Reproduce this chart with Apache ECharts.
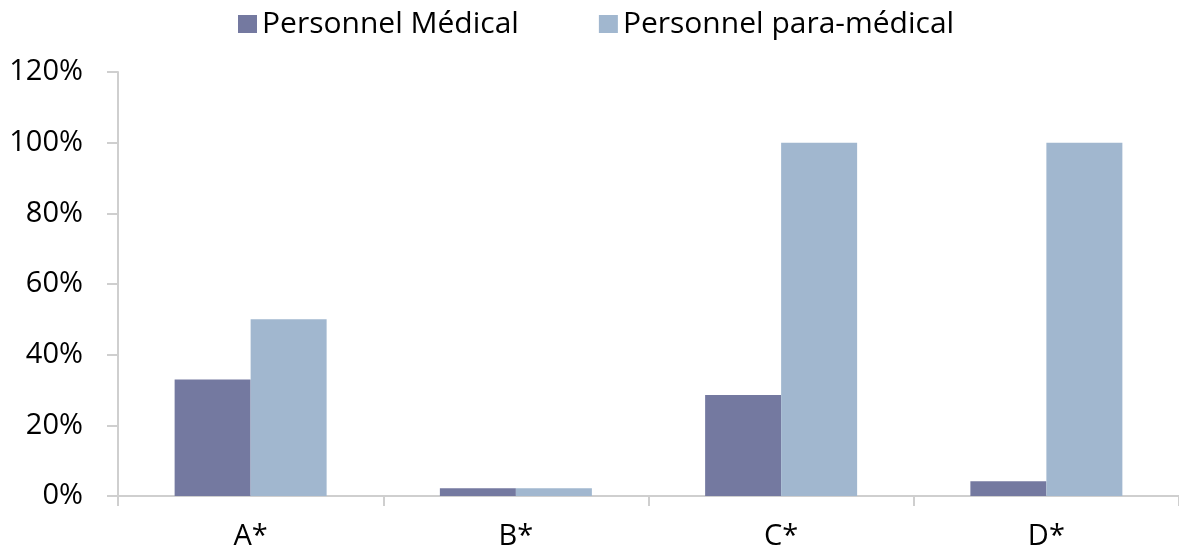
<!DOCTYPE html>
<html>
<head>
<meta charset="utf-8">
<script src="https://cdn.jsdelivr.net/npm/echarts@6/dist/echarts.min.js"></script>
<style>html,body{margin:0;padding:0;background:#fff;}#c{width:1179px;height:551px;}</style>
</head>
<body>
<div id="c"></div>
<script>
const categories = ['A*', 'B*', 'C*', 'D*'];
const seriesNames = ['Personnel Médical', 'Personnel para-médical'];
const medical = [33, 2.2, 28.6, 4.2];
const paramedical = [50, 2.2, 100, 100];
const yTicks = [0, 20, 40, 60, 80, 100, 120];

const font = '"Open Sans", Lato, sans-serif';
const chart = echarts.init(document.getElementById('c'));
chart.setOption({
  animation: false,
  backgroundColor: '#ffffff',
  legend: {
    top: 4,
    left: 233,
    itemWidth: 19,
    itemHeight: 18,
    itemGap: 80,
    icon: 'rect',
    textStyle: { fontFamily: font, fontSize: 30, color: '#000', padding: [0, 0, 0, 0] },
    data: seriesNames
  },
  grid: { left: 118, top: 72, width: 1068, height: 428, containLabel: false },
  xAxis: {
    type: 'category',
    data: categories,
    axisLine: { show: true, lineStyle: { color: '#cfcfcf', width: 2 } },
    axisTick: { show: true, length: 10, lineStyle: { color: '#cfcfcf', width: 2 } },
    axisLabel: { fontFamily: font, fontSize: 29, color: '#000', margin: 26 }
  },
  yAxis: {
    type: 'value',
    min: yTicks[0],
    max: yTicks[yTicks.length - 1],
    interval: 20,
    axisLine: { show: true, lineStyle: { color: '#cfcfcf', width: 2 } },
    axisTick: { show: true, length: 11, lineStyle: { color: '#cfcfcf', width: 2 } },
    splitLine: { show: false },
    axisLabel: { fontFamily: font, fontSize: 29, color: '#000', margin: 35, formatter: v => v + '%' }
  },
  series: [
    {
      name: seriesNames[0], type: 'bar', data: medical,
      barWidth: 76, barGap: '0%',
      itemStyle: { color: '#7479a0' }
    },
    {
      name: seriesNames[1], type: 'bar', data: paramedical,
      barWidth: 76, barGap: '0%',
      itemStyle: { color: '#a1b7cf' }
    }
  ]
});
</script>
</body>
</html>
